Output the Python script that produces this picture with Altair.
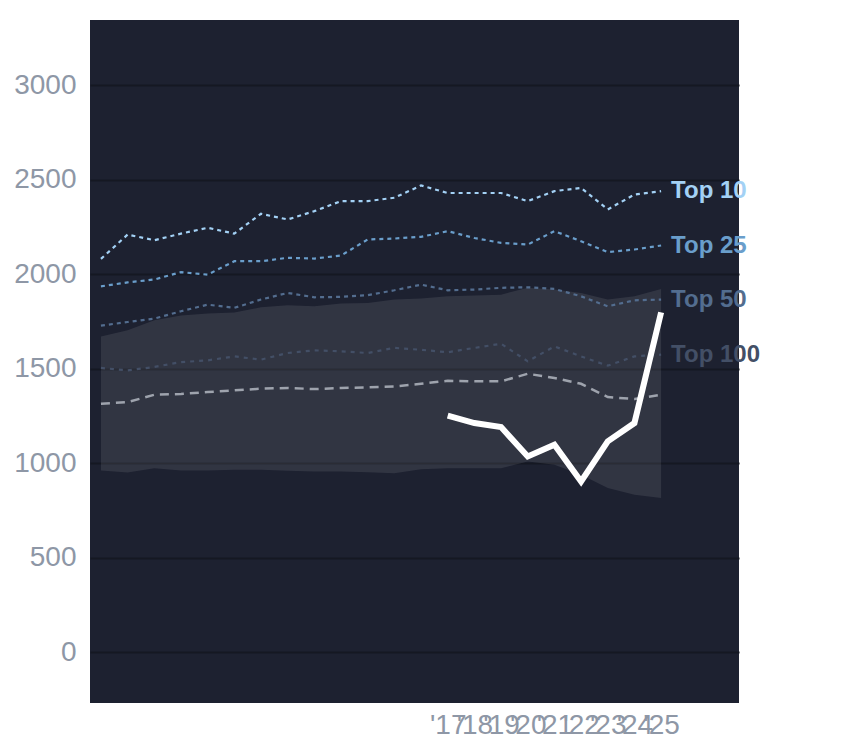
import altair as alt
import pandas as pd

years = list(range(2004, 2026))
top10 = [2081, 2210, 2180, 2215, 2246, 2215, 2320, 2290, 2334, 2387, 2387, 2405,
         2470, 2430, 2430, 2430, 2387, 2440, 2457, 2343, 2422, 2440]
top25 = [1936, 1957, 1972, 2011, 1998, 2069, 2069, 2087, 2083, 2099, 2184, 2189,
         2198, 2228, 2192, 2166, 2157, 2228, 2175, 2117, 2131, 2152]
top50 = [1728, 1747, 1765, 1804, 1839, 1822, 1866, 1901, 1878, 1880, 1889, 1915,
         1945, 1915, 1919, 1928, 1931, 1922, 1883, 1830, 1862, 1866]
top100 = [1504, 1491, 1509, 1535, 1544, 1565, 1548, 1583, 1597, 1592, 1583, 1610,
          1600, 1587, 1610, 1632, 1539, 1618, 1565, 1516, 1565, 1574]
median = [1314, 1323, 1362, 1366, 1376, 1385, 1394, 1398, 1392, 1398, 1401, 1406,
          1420, 1436, 1433, 1433, 1473, 1451, 1420, 1350, 1339, 1362]
band_hi = [1671, 1703, 1756, 1781, 1792, 1798, 1825, 1836, 1830, 1845, 1848, 1866,
           1871, 1883, 1887, 1892, 1928, 1919, 1901, 1866, 1883, 1922]
band_lo = [961, 950, 973, 961, 961, 965, 965, 959, 956, 956, 952, 947,
           968, 973, 973, 973, 1009, 991, 938, 868, 832, 815]
sel_years = list(range(2017, 2026))
selected = [1251, 1212, 1191, 1035, 1097, 903, 1115, 1212, 1798]
tick_years = list(range(2017, 2026))

FONT = "Liberation Sans"

df = pd.DataFrame({"year": years, "top10": top10, "top25": top25, "top50": top50,
                   "top100": top100, "median": median, "lo": band_lo, "hi": band_hi})
sel = pd.DataFrame({"year": sel_years, "value": selected})

x = alt.X("year:Q", scale=alt.Scale(domain=[2003.59, 2027.92], nice=False, zero=False),
          axis=alt.Axis(values=tick_years, format="d",
                        labelExpr="\"'\" + substring(datum.label, 2)",
                        labelOverlap=False, labelFlush=False, grid=False,
                        ticks=False, domain=False, labelPadding=8),
          title=None)
yscale = alt.Scale(domain=[-270, 3346], nice=False, zero=False)
y_axis = alt.Axis(values=[0, 500, 1000, 1500, 2000, 2500, 3000], format="d",
                  ticks=False, domain=False,
                  grid=True, gridColor="#151822", gridWidth=2, labelPadding=14)

base = alt.Chart(df)

band = base.mark_area(color="#ffffff", opacity=0.09).encode(
    x=x, y=alt.Y("lo:Q", scale=yscale, axis=y_axis, title=None), y2="hi:Q")

series = [
    ("top10", "#a3d1f5", [4, 4], 2.2, "Top 10"),
    ("top25", "#6a9ecb", [4, 4], 2.2, "Top 25"),
    ("top50", "#536d8f", [4, 4], 2.2, "Top 50"),
    ("top100", "#434f66", [4, 5], 2.2, "Top 100"),
]

layers = [band]
layers.append(base.mark_line(color="#9ea3ad", strokeDash=[9, 6], strokeWidth=2.5).encode(
    x=x, y=alt.Y("median:Q", scale=yscale)))
for col, color, dash, w, label in series:
    layers.append(base.mark_line(color=color, strokeDash=dash, strokeWidth=w).encode(
        x=x, y=alt.Y(f"{col}:Q", scale=yscale)))

layers.append(alt.Chart(sel).mark_line(color="#ffffff", strokeWidth=6, strokeJoin="miter").encode(
    x=x, y=alt.Y("value:Q", scale=yscale)))

lab_df = pd.DataFrame({"year": [years[-1]] * 4,
                       "value": [top10[-1], top25[-1], top50[-1], top100[-1]],
                       "label": [s[4] for s in series],
                       "color": [s[1] for s in series]})
layers.append(alt.Chart(lab_df).mark_text(align="left", baseline="middle", dx=10, clip=False,
                                          font=FONT, fontSize=24, fontWeight="bold").encode(
    x=x, y=alt.Y("value:Q", scale=yscale), text="label:N",
    color=alt.Color("color:N", scale=None)))

chart = alt.layer(*layers).properties(
    width=649, height=683,
    padding={"left": 5, "top": 12, "right": 5, "bottom": 5},
    background="#ffffff",
).configure_view(fill="#1d2130", stroke=None, clip=False).configure_axis(
    labelFont=FONT, labelFontSize=28, labelColor="#8e97a6"
)

chart.save("out.html", embed_options={"renderer": "svg", "actions": False})
